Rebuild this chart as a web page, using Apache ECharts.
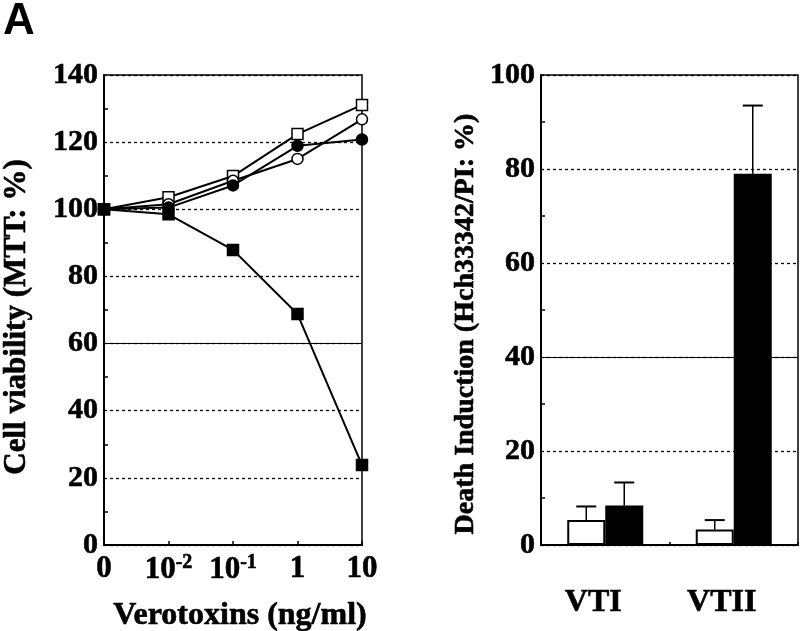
<!DOCTYPE html>
<html>
<head>
<meta charset="utf-8">
<script src="https://cdn.jsdelivr.net/npm/echarts@6/dist/echarts.min.js"></script>
<style>
html,body{margin:0;padding:0;background:#fff;}
#chart{width:800px;height:631px;}
</style>
</head>
<body>
<div id="chart"></div>
<script>
// ---- data ----
const doses = ['0', '10^-2', '10^-1', '1', '10'];
const openSquare = [100, 103.6, 109.9, 122.4, 131.1];
const openCircle = [100, 101.5, 108.5, 115.0, 126.8];
const filledCircle = [100, 100.5, 107.1, 118.9, 120.8];
const filledSquare = [100, 98.5, 87.9, 68.8, 23.8];

const toxins = ['VTI', 'VTII'];
const whiteMean = [5.3, 3.3];
const whiteErr = [2.9, 2.0];
const blackMean = [8.4, 79.0];
const blackErr = [4.9, 14.5];

const leftTicks = [0, 20, 40, 60, 80, 100, 120, 140];
const rightTicks = [0, 20, 40, 60, 80, 100];

// ---- chart ----
const FONT = 'Liberation Serif';
const chart = echarts.init(document.getElementById('chart'), null, {renderer: 'canvas'});
const BAR_W = 38;
const HEAVY = {textBorderColor: '#000', textBorderWidth: 0.6};

function lineSeries(data, symbol, fill) {
  return {
    type: 'line', xAxisIndex: 0, yAxisIndex: 0, data: data,
    symbol: symbol, symbolSize: 11,
    showAllSymbol: true,
    lineStyle: {color: '#000', width: 2},
    itemStyle: {color: fill, borderColor: '#000', borderWidth: 1.5},
    z: 3
  };
}

function errSeries(means, errs, dir) {
  return {
    type: 'custom', xAxisIndex: 1, yAxisIndex: 1,
    data: means.map((m, i) => [i, m, errs[i]]),
    renderItem: function (params, api) {
      const base = api.coord([api.value(0), api.value(1)]);
      const top = api.coord([api.value(0), api.value(1) + api.value(2)]);
      const x = base[0] + dir * BAR_W / 2;
      const cap = 10;
      return {
        type: 'group',
        children: [
          {type: 'line', shape: {x1: x, y1: base[1], x2: x, y2: top[1]}, style: {stroke: '#000', lineWidth: 1.5}},
          {type: 'line', shape: {x1: x - cap, y1: top[1], x2: x + cap, y2: top[1]}, style: {stroke: '#000', lineWidth: 2}}
        ]
      };
    },
    z: 1
  };
}

const axisLabelStyle = Object.assign({color: '#000', fontFamily: FONT, fontWeight: 'bold', fontSize: 30}, HEAVY);

const option = {
  backgroundColor: '#fff',
  animation: false,
  graphic: [{
    type: 'text', left: 3, top: 0,
    style: {text: 'A', fontFamily: 'Liberation Sans', fontWeight: 'bold', fontSize: 44, fill: '#000'}
  }],
  grid: [
    {left: 104, top: 75, width: 258, height: 470, show: true, borderColor: '#000', borderWidth: 1.5,
      backgroundColor: 'transparent', containLabel: false, outerBoundsMode: 'none'},
    {left: 541, top: 75, width: 257, height: 470, show: true, borderColor: '#000', borderWidth: 1.5,
      backgroundColor: 'transparent', containLabel: false, outerBoundsMode: 'none'}
  ],
  xAxis: [
    {
      type: 'category', gridIndex: 0, data: doses, boundaryGap: false,
      axisLine: {lineStyle: {color: '#000', width: 2}},
      axisTick: {show: true, inside: true, length: 4, lineStyle: {color: '#000', width: 1.5}},
      axisLabel: {
        margin: 8,
        interval: 0,
        formatter: function (v) {
          if (v.indexOf('10^') === 0) return '{b|10}{s|' + v.slice(3) + '}';
          return '{b|' + v + '}';
        },
        rich: {
          b: Object.assign({fontFamily: FONT, fontWeight: 'bold', fontSize: 31, color: '#000'}, HEAVY),
          s: Object.assign({fontFamily: FONT, fontWeight: 'bold', fontSize: 20, color: '#000', padding: [0, 0, 14, 0]}, HEAVY)
        }
      },
      name: 'Verotoxins (ng/ml)', nameLocation: 'middle', nameGap: 55,
      nameTextStyle: Object.assign({color: '#000', fontFamily: FONT, fontWeight: 'bold', fontSize: 32, padding: [0, 0, 0, 14]}, HEAVY)
    },
    {
      type: 'category', gridIndex: 1, data: toxins, boundaryGap: true,
      axisLine: {lineStyle: {color: '#000', width: 2}},
      axisTick: {show: true, inside: true, length: 3, lineStyle: {color: '#000', width: 1.5}},
      axisLabel: Object.assign({margin: 42, fontSize: 32, padding: [0, 24, 0, 0], color: '#000', fontFamily: FONT, fontWeight: 'bold'}, HEAVY)
    }
  ],
  yAxis: [
    {
      type: 'value', gridIndex: 0, min: leftTicks[0], max: leftTicks[leftTicks.length - 1], interval: 20,
      axisLine: {show: true, lineStyle: {color: '#000', width: 2}},
      axisTick: {show: true, inside: true, length: 0},
      minorTick: {show: true, splitNumber: 2, length: 4, lineStyle: {color: '#000', width: 1.5}},
      splitLine: {show: true, lineStyle: {color: '#000', type: [3, 3], width: 1.3}},
      axisLabel: Object.assign({margin: 6}, axisLabelStyle),
      name: 'Cell viability (MTT: %)', nameLocation: 'middle', nameGap: 72,
      nameTextStyle: Object.assign({color: '#000', fontFamily: FONT, fontWeight: 'bold', fontSize: 31, padding: [0, 14, 0, 0]}, HEAVY)
    },
    {
      type: 'value', gridIndex: 1, min: rightTicks[0], max: rightTicks[rightTicks.length - 1], interval: 20,
      axisLine: {show: true, lineStyle: {color: '#000', width: 2}},
      axisTick: {show: true, inside: true, length: 0},
      minorTick: {show: true, splitNumber: 2, length: 4, lineStyle: {color: '#000', width: 1.5}},
      splitLine: {show: true, lineStyle: {color: '#000', type: [3, 3], width: 1.3}},
      axisLabel: Object.assign({margin: 6}, axisLabelStyle),
      name: 'Death Induction (Hch33342/PI: %)', nameLocation: 'middle', nameGap: 61,
      nameTextStyle: Object.assign({color: '#000', fontFamily: FONT, fontWeight: 'bold', fontSize: 28, padding: [0, 28, 0, 0]}, HEAVY)
    }
  ],
  series: [
    Object.assign(lineSeries(openSquare, 'rect', '#fff'), {
      markLine: {silent: true, symbol: 'none', label: {show: false},
        lineStyle: {color: '#000', type: 'solid', width: 1.2}, data: [{yAxis: 60}]}
    }),
    lineSeries(openCircle, 'circle', '#fff'),
    lineSeries(filledCircle, 'circle', '#000'),
    lineSeries(filledSquare, 'rect', '#000'),
    {
      type: 'bar', xAxisIndex: 1, yAxisIndex: 1, data: whiteMean, barWidth: BAR_W, barGap: '0%',
      itemStyle: {color: '#fff', borderColor: '#000', borderWidth: 2},
      markLine: {silent: true, symbol: 'none', label: {show: false},
        lineStyle: {color: '#000', type: 'solid', width: 1.2}, data: [{yAxis: 40}]},
      z: 2
    },
    {
      type: 'bar', xAxisIndex: 1, yAxisIndex: 1, data: blackMean, barWidth: BAR_W, barGap: '0%',
      itemStyle: {color: '#000', borderColor: '#000', borderWidth: 2},
      z: 2
    },
    errSeries(whiteMean, whiteErr, -1),
    errSeries(blackMean, blackErr, 1)
  ]
};
chart.setOption(option);
</script>
</body>
</html>
